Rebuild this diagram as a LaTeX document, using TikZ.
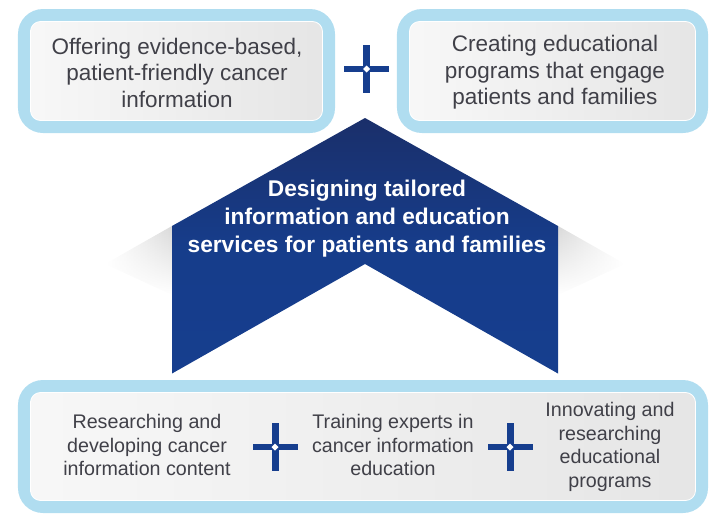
\documentclass[tikz,border=0pt]{standalone}
\usepackage{fontspec}
\setmainfont{Liberation Sans}
\usepackage{xcolor}
\usetikzlibrary{positioning,fadings}
\definecolor{skyband}{HTML}{B0DDF0}
\definecolor{navyplus}{HTML}{163E8E}
\definecolor{navytop}{HTML}{1A2F6A}
\definecolor{bodytext}{HTML}{404048}

\begin{document}
\begin{tikzpicture}[
    x=0.03cm, y=-0.03cm,
    outerbox/.style={fill=skyband, rounded corners=0.75cm, inner sep=0pt},
    innerbox/.style={draw=white, line width=0.7pt, left color=black!3, middle color=black!1, right color=black!10, rounded corners=0.3cm, inner sep=0pt},
    largetext/.style={align=center, text=bodytext, inner sep=0pt, font=\fontsize{19.2}{22.6}\selectfont},
    smalltext/.style={align=center, text=bodytext, inner sep=0pt, font=\fontsize{16.8}{20}\selectfont},
    plusbar/.style={fill=navyplus, inner sep=0pt}
]
    \useasboundingbox (0,0) rectangle (727,524);

    % top row
    \node[outerbox, minimum width=9.51cm, minimum height=3.72cm] (outerleft) at (176.5,71) {};
    \node[innerbox, minimum width=8.76cm, minimum height=2.97cm] (innerleft) at (outerleft.center) {};
    \node[largetext] (offering) at (177,72.5) {Offering evidence-based,\\patient-friendly cancer\\information};
    \node[outerbox, minimum width=9.33cm, minimum height=3.72cm] (outerright) at (552.5,71) {};
    \node[innerbox, minimum width=8.58cm, minimum height=2.97cm] (innerright) at (outerright.center) {};
    \node[largetext] (creating) at (555,72.5) {Creating educational\\programs that engage\\patients and families};

    % shadows behind the chevron
    \shade[left color=white, right color=black!15, path fading=south] (105,264) -- (172,226) -- (172,295) -- cycle;
    \shade[right color=white, left color=black!15, path fading=south] (625,264) -- (558,226) -- (558,295) -- cycle;

    % chevron
    \shade[top color=navytop, bottom color=navyplus, middle color=navyplus!90!navytop] (365,118) -- (558,226) -- (558,373.5) -- (365,264) -- (172,373.5) -- (172,226) -- cycle;
    \node[text=white, align=center, font=\fontsize{19.4}{23.9}\bfseries\selectfont] (tailored) at (367,219) {Designing tailored\\information and education\\services for patients and families};

    % bottom row
    \node[outerbox, minimum width=20.7cm, minimum height=3.99cm] (outerbottom) at (363,446.5) {};
    \node[innerbox, minimum width=19.95cm, minimum height=3.24cm] (innerbottom) at (outerbottom.center) {};
    \node[smalltext] (researching) at (147,445) {Researching and\\developing cancer\\information content};
    \node[smalltext] (training) at (393,445) {Training experts in\\cancer information\\education};
    \node[smalltext] (innovating) at (610,447) {Innovating and\\researching\\educational\\programs};

    % plus marks
    \foreach \cx/\cy/\name in {366.5/69/plustop, 275/447/plusleft, 510/447/plusright} {
        \node[plusbar, minimum width=1.35cm, minimum height=0.2cm] (\name h) at (\cx,\cy) {};
        \node[plusbar, minimum width=0.21cm, minimum height=1.44cm] (\name v) at (\cx,\cy) {};
        \fill[white] (\cx-3.5,\cy) -- (\cx,\cy-3.5) -- (\cx+3.5,\cy) -- (\cx,\cy+3.5) -- cycle;
    }
\end{tikzpicture}
\end{document}
